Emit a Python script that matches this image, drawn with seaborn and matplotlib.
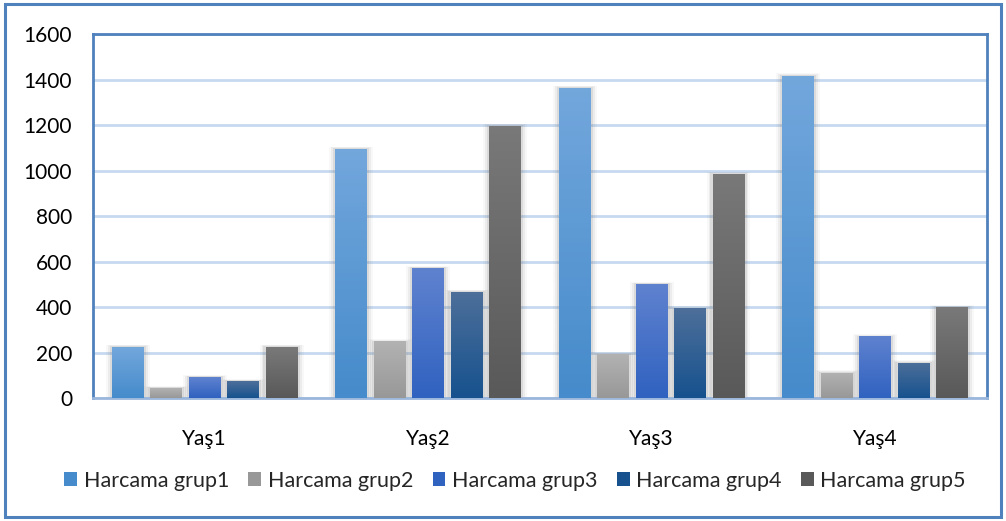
import numpy as np
import pandas as pd
import seaborn as sns
import matplotlib.pyplot as plt
from matplotlib.patches import Rectangle
from matplotlib.colors import LinearSegmentedColormap

# values
yaslar = ["Yaş1", "Yaş2", "Yaş3", "Yaş4"]
grup1 = [224, 1095, 1363, 1416]
grup2 = [43, 249, 192, 112]
grup3 = [92, 570, 500, 271]
grup4 = [74, 466, 394, 156]
grup5 = [224, 1196, 985, 399]
gruplar = ["Harcama grup1", "Harcama grup2", "Harcama grup3", "Harcama grup4", "Harcama grup5"]

# (top, bottom) colours of the Excel style gradients
renkler = [("#72a7dc", "#468bcb"), ("#b2b2b2", "#989898"), ("#5f82cf", "#3062c0"),
           ("#4d6f9a", "#17528e"), ("#797979", "#595959")]

rows = []
for g, vals in zip(gruplar, [grup1, grup2, grup3, grup4, grup5]):
    for y, v in zip(yaslar, vals):
        rows.append({"yas": y, "grup": g, "deger": v})
df = pd.DataFrame(rows)

sns.set_style("white")
plt.rcParams["font.family"] = ["Lato", "DejaVu Sans"]

fig = plt.figure(figsize=(10.06, 5.21), dpi=100)
ax = fig.add_axes([0.0924, 0.236, 0.8886, 0.6987])

palette = {g: c[1] for g, c in zip(gruplar, renkler)}
sns.barplot(data=df, x="yas", y="deger", hue="grup", hue_order=gruplar, order=yaslar,
            palette=palette, width=0.86, gap=0.17, ax=ax, legend=False, zorder=3,
            linewidth=0, edgecolor="none")

ax.set_yticks(range(0, 1601, 200))
ax.set_xlabel("")
ax.set_ylabel("")

# pixel size in data units
px_x = 4 / 894
px_y = 1600 / 364

for cont, (top, bot) in zip(ax.containers, renkler):
    cmap = LinearSegmentedColormap.from_list("g", [bot, top])
    grad = np.linspace(0, 1, 64).reshape(-1, 1)
    for p in cont.patches:
        p.set_edgecolor("none")
        p.set_linewidth(0)
        x0, w, h = p.get_x(), p.get_width(), p.get_height()
        # soft shadow around the bar
        for k, a in [(6, 0.05), (4, 0.09), (2.2, 0.15)]:
            ax.add_patch(Rectangle((x0 - k * px_x, 0), w + 2 * k * px_x, h + k * px_y * 0.4,
                                   facecolor="#7a7a7a", edgecolor="none", alpha=a, zorder=2))
        im = ax.imshow(grad, cmap=cmap, origin="lower", aspect="auto",
                       extent=(x0, x0 + w, 0, h), zorder=4)
        im.set_clip_path(p)

ax.set_xlim(-0.5, 3.5)
ax.set_ylim(0, 1600)

ax.grid(axis="y", color="#c6d9f0", linewidth=2, zorder=0)
ax.set_axisbelow(True)
for s in ax.spines.values():
    s.set_color("#4f81bd")
    s.set_linewidth(2)
ax.spines["bottom"].set_color("#9bb7dc")
ax.tick_params(axis="both", length=0, labelsize=15, colors="black")
ax.tick_params(axis="y", pad=15)
ax.tick_params(axis="x", pad=22)

handles = [Rectangle((0, 0), 1, 1, facecolor=c[1], edgecolor="none") for c in renkler]
fig.legend(handles, gruplar, loc="center", bbox_to_anchor=(0.512, 0.077), ncol=5,
           frameon=False, fontsize=15.5, handlelength=0.6, handleheight=0.6,
           handletextpad=0.3, columnspacing=0.9)

fig.patches.append(Rectangle((0.005, 0.008), 0.99, 0.984, transform=fig.transFigure,
                             fill=False, edgecolor="#4f81bd", linewidth=2.2))

fig.savefig("out.png", dpi=100)
